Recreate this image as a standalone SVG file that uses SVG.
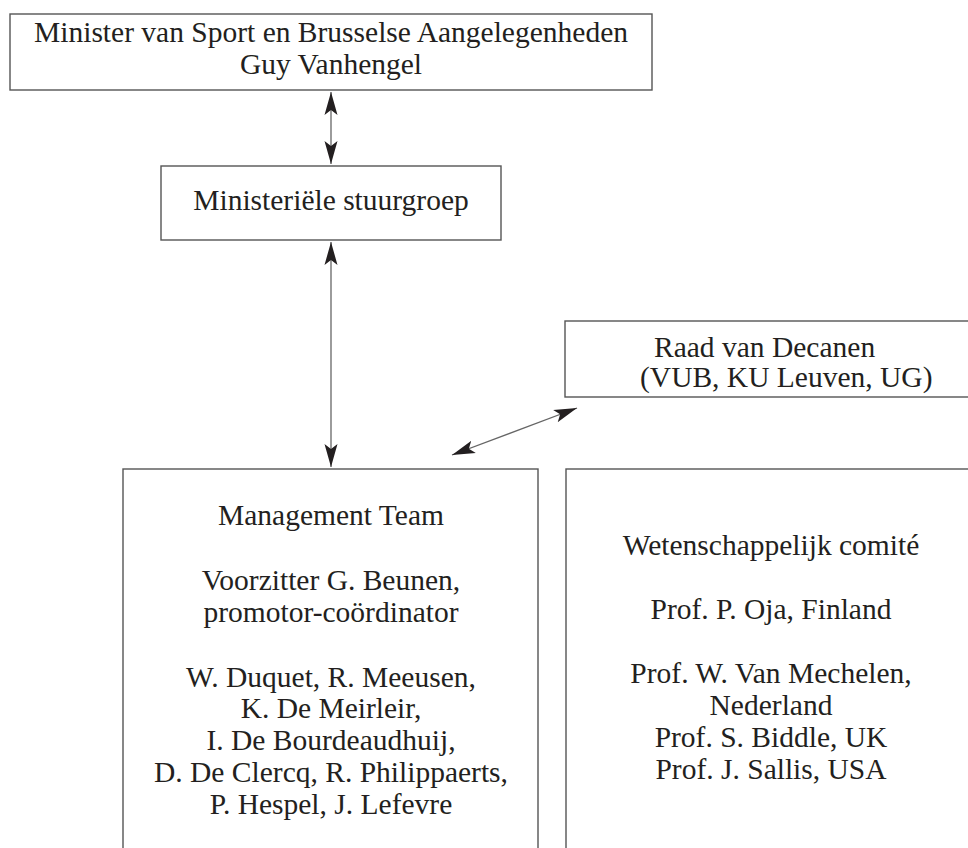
<svg xmlns="http://www.w3.org/2000/svg" width="968" height="848" viewBox="0 0 968 848">
<style>
.box{fill:#fff;stroke:#555;stroke-width:1.4}
.t{font-family:"Liberation Serif","Times New Roman",serif;font-size:29.5px;fill:#231f20;text-anchor:middle}
.ts{font-family:"Liberation Serif","Times New Roman",serif;font-size:29.5px;fill:#231f20;text-anchor:start}
.conn{stroke:#666;stroke-width:1.3;fill:none;marker-start:url(#ah);marker-end:url(#ah)}
</style>
<defs>
<marker id="ah" markerUnits="userSpaceOnUse" markerWidth="24" markerHeight="14" refX="23" refY="6.5" orient="auto-start-reverse" viewBox="0 0 24 13">
<path d="M0,0 L23,6.5 L0,13 L5,6.5 z" fill="#231f20"/>
</marker>
</defs>
<rect width="968" height="848" fill="#fff"/>
<g id="minister">
<rect class="box" x="10" y="14" width="642" height="76"/>
<text class="t" x="331" y="42">Minister van Sport en Brusselse Aangelegenheden</text>
<text class="t" x="331" y="74">Guy Vanhengel</text>
</g>
<g id="stuurgroep">
<rect class="box" x="161" y="166" width="340" height="74"/>
<text class="t" x="331" y="210">Ministeriële stuurgroep</text>
</g>
<g id="raad">
<rect class="box" x="565" y="321" width="420" height="76"/>
<text class="ts" x="654" y="357">Raad van Decanen</text>
<text class="ts" x="640" y="387">(VUB, KU Leuven, UG)</text>
</g>
<g id="management">
<rect class="box" x="123" y="469" width="415" height="400"/>
<text class="t" x="331" y="525">Management Team</text>
<text class="t" x="331" y="590">Voorzitter G. Beunen,</text>
<text class="t" x="331" y="622">promotor-coördinator</text>
<text class="t" x="331" y="687">W. Duquet, R. Meeusen,</text>
<text class="t" x="331" y="718">K. De Meirleir,</text>
<text class="t" x="331" y="750">I. De Bourdeaudhuij,</text>
<text class="t" x="331" y="782">D. De Clercq, R. Philippaerts,</text>
<text class="t" x="331" y="814">P. Hespel, J. Lefevre</text>
</g>
<g id="comite">
<rect class="box" x="566" y="469" width="420" height="400"/>
<text class="t" x="771" y="555">Wetenschappelijk comité</text>
<text class="t" x="771" y="619">Prof. P. Oja, Finland</text>
<text class="t" x="771" y="683">Prof. W. Van Mechelen,</text>
<text class="t" x="771" y="715">Nederland</text>
<text class="t" x="771" y="747">Prof. S. Biddle, UK</text>
<text class="t" x="771" y="779">Prof. J. Sallis, USA</text>
</g>
<g id="connectors">
<line class="conn" x1="331" y1="92" x2="331" y2="164"/>
<line class="conn" x1="331" y1="242" x2="331" y2="467"/>
<line class="conn" x1="452" y1="455" x2="577" y2="408"/>
</g>
</svg>
